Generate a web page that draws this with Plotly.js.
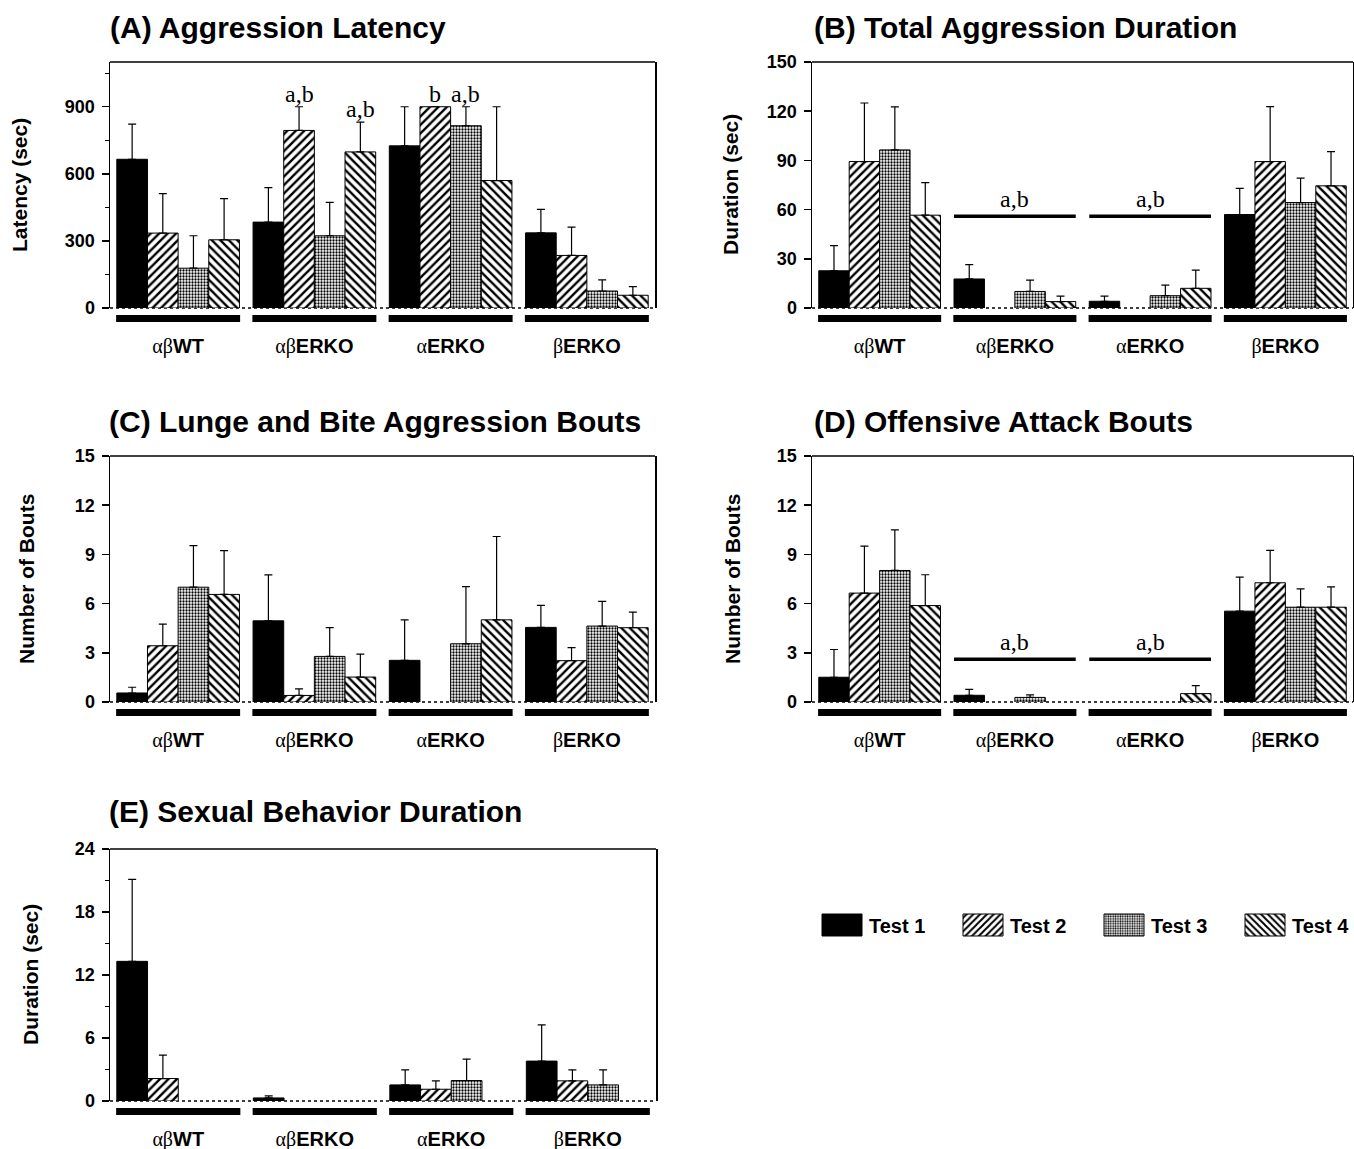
<!DOCTYPE html>
<html>
<head>
<meta charset="utf-8">
<script src="https://cdn.plot.ly/plotly-3.0.1.min.js"></script>
<style>html,body{margin:0;padding:0;background:#fff;}</style>
</head>
<body>
<div id="chart" style="width:1354px;height:1149px;"></div>
<script>
// ---------- DATA ----------
const groups = ["αβWT", "αβERKO", "αERKO", "βERKO"];
const testNames = ["Test 1", "Test 2", "Test 3", "Test 4"];

// rows = Test 1..4, columns = groups
const latencyMean = [[665, 384, 725, 336], [335, 794, 900, 235], [178, 323, 815, 76], [305, 698, 570, 57]];
const latencySem  = [[157, 154, 175, 105], [176, 106, null, 127], [145, 149, 85, 50], [184, 133, 330, 39]];

const durationMean = [[22.7, 17.7, 4.1, 57], [89.3, null, null, 89.3], [96.4, 10.1, 7.5, 64.3], [56.6, 3.9, 12, 74.5]];
const durationSem  = [[15.3, 8.7, 3.2, 15.9], [35.7, null, null, 33.5], [26.2, 6.9, 6.5, 14.9], [19.9, 3.4, 11.1, 20.9]];

const lungeMean = [[0.55, 4.95, 2.54, 4.55], [3.43, 0.4, null, 2.52], [7.0, 2.78, 3.55, 4.63], [6.56, 1.52, 5.01, 4.53]];
const lungeSem  = [[0.35, 2.8, 2.47, 1.34], [1.32, 0.4, null, 0.79], [2.54, 1.75, 3.49, 1.5], [2.67, 1.4, 5.08, 0.95]];

const attackMean = [[1.51, 0.41, null, 5.54], [6.64, null, null, 7.27], [8.02, 0.28, null, 5.78], [5.88, null, 0.51, 5.78]];
const attackSem  = [[1.69, 0.36, null, 2.07], [2.86, null, null, 1.97], [2.48, 0.15, null, 1.12], [1.88, null, 0.49, 1.24]];

const sexMean = [[13.3, 0.29, 1.53, 3.8], [2.14, null, 1.12, 1.92], [null, null, 1.95, 1.53], [null, null, null, null]];
const sexSem  = [[7.8, 0.19, 1.44, 3.45], [2.23, null, 0.8, 1.05], [null, null, 2.04, 1.44], [null, null, null, null]];

// significance letters in panel A (group index, test index, text)
const latencyMarkGroup = [1, 1, 2, 2];
const latencyMarkTest  = [1, 3, 1, 2];
const latencyMarkText  = ["a,b", "a,b", "b", "a,b"];

// significance bars in panels B and D
const durationSigGroups = [1, 2];
const durationSigLevel = 56;
const attackSigGroups = [1, 2];
const attackSigLevel = 2.6;
const sigText = "a,b";

// ---------- STYLE / LAYOUT ----------
const W = 1354, H = 1149;
const px = v => v / W;
const py = v => 1 - v / H;

const panels = [
  {key: "", title: "(A) Aggression Latency", ytitle: "Latency (sec)", mean: latencyMean, sem: latencySem,
   xd: [110, 655], yd: [62, 308], range: [0, 1100], dtick: 300, minor: 150, tx: 108, ty: 28, ytx: 20},
  {key: "2", title: "(B) Total Aggression Duration", ytitle: "Duration (sec)", mean: durationMean, sem: durationSem,
   xd: [812, 1353], yd: [62, 308], range: [0, 150], dtick: 30, minor: null, tx: 812, ty: 28, ytx: 731},
  {key: "3", title: "(C) Lunge and Bite Aggression Bouts", ytitle: "Number of Bouts", mean: lungeMean, sem: lungeSem,
   xd: [110, 655], yd: [456, 702], range: [0, 15], dtick: 3, minor: null, tx: 107, ty: 421, ytx: 26},
  {key: "4", title: "(D) Offensive Attack Bouts", ytitle: "Number of Bouts", mean: attackMean, sem: attackSem,
   xd: [812, 1353], yd: [456, 702], range: [0, 15], dtick: 3, minor: null, tx: 812, ty: 421, ytx: 732},
  {key: "5", title: "(E) Sexual Behavior Duration", ytitle: "Duration (sec)", mean: sexMean, sem: sexSem,
   xd: [110, 656], yd: [849, 1101], range: [0, 24], dtick: 6, minor: 3, tx: 107, ty: 811, ytx: 30}
];

const barW = 0.9 / 4;
const patterns = [
  null,
  {shape: "/", size: 6, solidity: 0.4},
  {shape: ".", size: 3, solidity: 0.45},
  {shape: "\\", size: 6, solidity: 0.4}
];

const groupLabels = groups.map(g => {
  const m = g.match(/^([αβ]+)(.*)$/);
  return '<span style="font-family:Liberation Serif;font-weight:normal">' + m[1] + '</span>' + m[2];
});

const traces = [];
const shapes = [];
const annotations = [];
const layout = {
  width: W, height: H,
  margin: {l: 0, r: 0, t: 0, b: 0, autoexpand: false},
  paper_bgcolor: "white", plot_bgcolor: "white",
  barmode: "group", bargap: 0.1, bargroupgap: 0,
  font: {family: "Liberation Sans, Arial, sans-serif", color: "black"},
  showlegend: true,
  legend: {
    orientation: "h", x: px(815), xanchor: "left", y: py(925), yanchor: "middle",
    entrywidth: 82, entrywidthmode: "pixels", itemwidth: 44,
    font: {size: 20, weight: "bold", family: "Liberation Sans, Arial, sans-serif"},
    bgcolor: "rgba(0,0,0,0)", traceorder: "normal"
  }
};

panels.forEach((p, pi) => {
  const xa = "x" + p.key, ya = "y" + p.key;
  const xName = "xaxis" + p.key, yName = "yaxis" + p.key;
  layout[xName] = {
    domain: [px(p.xd[0]), px(p.xd[1])], anchor: ya, type: "category",
    categoryorder: "array", categoryarray: groups, range: [-0.5, groups.length - 0.5],
    tickvals: groups, ticktext: groupLabels,
    showgrid: false, showline: false, zeroline: false, ticks: "",
    tickfont: {size: 20, weight: "bold"}, ticklabelstandoff: 24, fixedrange: true
  };
  const ycfg = {
    domain: [py(p.yd[1]), py(p.yd[0])], anchor: xa, range: p.range,
    tick0: 0, dtick: p.dtick, showgrid: false, zeroline: false,
    showline: true, linecolor: "black", linewidth: 1.5, mirror: true,
    ticks: "outside", ticklen: 7, tickwidth: 1.5, tickcolor: "black",
    tickfont: {size: 18, weight: "bold"}, ticklabelstandoff: 3, fixedrange: true
  };
  if (p.minor) ycfg.minor = {dtick: p.minor, tick0: 0, ticks: "outside", ticklen: 4, tickwidth: 1, tickcolor: "black"};
  layout[yName] = ycfg;

  testNames.forEach((t, ti) => {
    const marker = {line: {color: "black", width: 1}};
    if (patterns[ti]) {
      marker.color = "white";
      marker.pattern = Object.assign({fgcolor: "black", bgcolor: "white", fillmode: "replace"}, patterns[ti]);
    } else {
      marker.color = "black";
    }
    traces.push({
      type: "bar", name: t, x: groups, y: p.mean[ti],
      xaxis: xa, yaxis: ya, marker: marker,
      legendgroup: t, showlegend: pi === 0,
      error_y: {type: "data", symmetric: false, array: p.sem[ti], arrayminus: p.sem[ti].map(() => 0),
                color: "black", thickness: 1.2, width: 4},
      hoverinfo: "x+y+name"
    });
  });

  // frame top border and dotted baseline
  shapes.push({type: "line", xref: xa + " domain", yref: ya + " domain", x0: 0, x1: 1, y0: 1, y1: 1,
               line: {color: "black", width: 1.5}});
  shapes.push({type: "line", xref: xa + " domain", yref: ya + " domain", x0: 0, x1: 1, y0: 0, y1: 0,
               line: {color: "black", width: 1.3, dash: "dot"}, layer: "below"});
  // thick black group bars under each group (category slot -> domain fraction)
  const n = groups.length;
  groups.forEach((g, gi) => {
    shapes.push({type: "rect", xref: xa + " domain", yref: "paper",
                 x0: (gi + 0.5 - 0.455) / n, x1: (gi + 0.5 + 0.455) / n,
                 y0: py(p.yd[1] + 14), y1: py(p.yd[1] + 7),
                 fillcolor: "black", line: {width: 0}});
  });

  // panel title
  annotations.push({text: p.title, xref: "paper", yref: "paper", x: px(p.tx), y: py(p.ty),
                    xanchor: "left", yanchor: "middle", showarrow: false,
                    font: {size: 30, weight: "bold"}});
  // y axis title
  annotations.push({text: p.ytitle, xref: "paper", yref: "paper", x: px(p.ytx), y: py((p.yd[0] + p.yd[1]) / 2),
                    xanchor: "center", yanchor: "middle", textangle: -90, showarrow: false,
                    font: {size: 21, weight: "bold"}});
});

// Panel A significance letters
latencyMarkGroup.forEach((g, i) => {
  const t = latencyMarkTest[i];
  const top = latencyMean[t][g] + (latencySem[t][g] || 0);
  annotations.push({text: latencyMarkText[i], xref: "x", yref: "y",
                    x: g + (t - 1.5) * barW, y: top, xanchor: "center", yanchor: "bottom",
                    showarrow: false, yshift: -2,
                    font: {size: 24, family: "Liberation Serif, Times New Roman, serif"}});
});

// Panels B and D significance bars
[[durationSigGroups, durationSigLevel, "2"], [attackSigGroups, attackSigLevel, "4"]].forEach(([gs, lvl, k]) => {
  gs.forEach(g => {
    shapes.push({type: "line", xref: "x" + k, yref: "y" + k, x0: g - 0.45, x1: g + 0.45, y0: lvl, y1: lvl,
                 line: {color: "black", width: 3.5}});
    annotations.push({text: sigText, xref: "x" + k, yref: "y" + k, x: g, y: lvl,
                      xanchor: "center", yanchor: "bottom", yshift: 2, showarrow: false,
                      font: {size: 24, family: "Liberation Serif, Times New Roman, serif"}});
  });
});

layout.shapes = shapes;
layout.annotations = annotations;

Plotly.newPlot("chart", traces, layout, {staticPlot: true, displayModeBar: false}).then(() => {
  // enlarge the legend swatches to match the reference's wide rectangles
  try {
    document.querySelectorAll("#chart .legend .traces .legendpoints path").forEach(el => {
      el.setAttribute("d", "M-20,-11H20V11H-20Z");
    });
  } catch (e) {}
});
</script>
</body>
</html>
